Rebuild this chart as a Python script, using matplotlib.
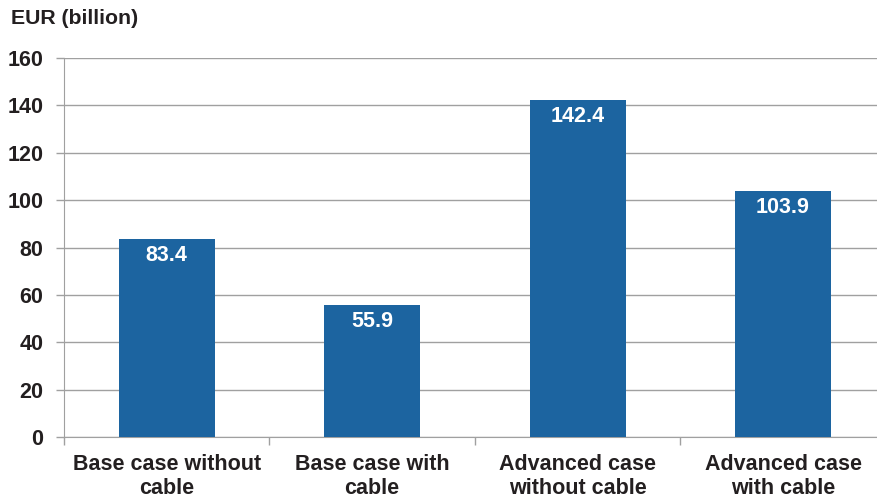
import matplotlib
matplotlib.use("Agg")
import matplotlib.pyplot as plt

### Podatki
kategorije = ["Base case without\ncable", "Base case with\ncable",
              "Advanced case\nwithout cable", "Advanced case\nwith cable"]
vrednosti = [83.4, 55.9, 142.4, 103.9]
oznake_y = [0, 20, 40, 60, 80, 100, 120, 140, 160]

plt.rcParams['font.family'] = ['Liberation Sans', 'DejaVu Sans']
barva_besedila = "#231f20"
siva = "#a0a0a0"

fig = plt.figure(figsize=(8.77, 4.99), dpi=100)
# os gre malo cez desni rob slike
ax = fig.add_axes([0.073, 0.124, 0.937, 0.76])

x = list(range(len(kategorije)))
ax.bar(x, vrednosti, width=0.467, color="#1c64a0", zorder=3)

for i, v in enumerate(vrednosti):
    ax.text(i, v - 2.5, "{:.1f}".format(v), ha="center", va="top",
            color="white", fontsize=15.5, fontweight="bold", zorder=4)

ax.set_xlim(-0.5, len(kategorije) - 0.5)
ax.set_ylim(0, 160)
ax.set_yticks(oznake_y)
ax.set_yticklabels([str(t) for t in oznake_y], fontsize=15.5, fontweight="bold", color=barva_besedila)
ax.grid(axis="y", color=siva, linewidth=1, zorder=0)

# kategorije brez tick markov, tick marki na mejah
ax.set_xticks(x)
ax.set_xticklabels(kategorije, fontsize=15.5, fontweight="bold", color=barva_besedila, linespacing=1.18)
ax.tick_params(axis="x", length=0, pad=12)
ax.set_xticks([i - 0.5 for i in range(len(kategorije) + 1)], minor=True)
ax.tick_params(axis="x", which="minor", length=6, color=siva, width=1)
ax.tick_params(axis="y", length=6, color=siva, width=1, pad=9)

for s in ["top", "right"]:
    ax.spines[s].set_visible(False)
ax.spines["left"].set_color(siva)
ax.spines["bottom"].set_color(siva)

fig.text(0.013, 0.963, "EUR (billion)", fontsize=15.3, fontweight="bold", color=barva_besedila, va="center")

fig.savefig("out.png", dpi=100)
